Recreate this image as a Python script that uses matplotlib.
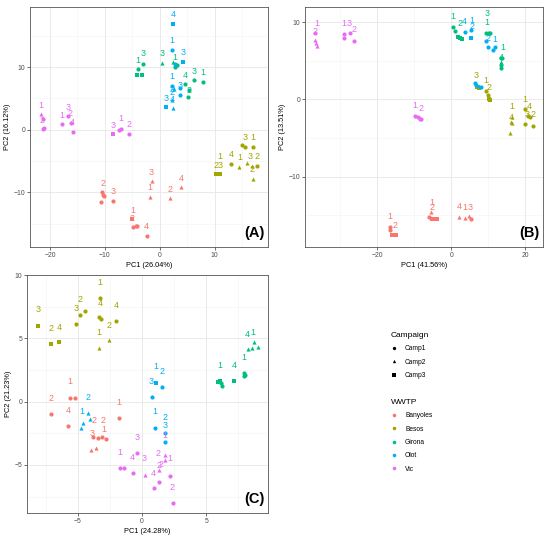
import matplotlib
matplotlib.use("Agg")
import matplotlib.pyplot as plt
from matplotlib.lines import Line2D

plt.rcParams['font.family'] = ['Liberation Sans', 'DejaVu Sans']

SITES = ['Banyoles', 'Besos', 'Girona', 'Olot', 'Vic']
CAMPS = ['Camp1', 'Camp2', 'Camp3']
COLORS = {'Banyoles': '#F8766D', 'Besos': '#A3A500', 'Girona': '#00BF7D',
          'Olot': '#00B0F6', 'Vic': '#E76BF3'}
MARKERS = {'Camp1': 'o', 'Camp2': '^', 'Camp3': 's'}

# ---------------- Panel A ----------------
a_site = (['Olot'] * 11 + ['Girona'] * 13 + ['Vic'] * 12 + ['Banyoles'] * 14 + ['Besos'] * 11)
a_x = [2.42, 2.2, 4.24, 2.85, 2.2, 2.5, 3.6, 3.6, 1.2, 2.3, 2.4,
       -4.0, -3.03, -4.2, -3.3, 0.48, 2.4, 2.7, 3.1, 4.5, 6.2, 7.9, 5.3, 5.2,
       -21.7, -21.3, -21.2, -21.0, -17.9, -16.7, -16.2, -15.9, -8.5, -7.4, -7.1, -5.7,
       -1.5, -1.8, 1.94, 3.9, -10.6, -10.3, -10.2, -10.7, -8.6, -5.0, -4.85, -4.4, -4.2, -2.4,
       15.0, 15.6, 17.0, 13.0, 14.5, 15.9, 16.7, 17.7, 17.0, 10.2, 11.0]
a_y = [16.9, 12.8, 10.8, 10.5, 7.07, 6.5, 6.6, 5.6, 3.7, 4.7, 3.5,
       9.7, 10.5, 8.8, 8.8, 10.6, 10.9, 10.0, 10.3, 7.3, 8.0, 7.6, 6.4, 5.3,
       2.6, 1.8, 0.2, 0.3, 0.9, 2.2, 1.1, -0.3, -0.6, -0.1, 0.2, -0.6,
       -8.1, -10.7, -10.9, -9.2, -9.9, -10.4, -10.6, -11.5, -11.3, -14.3, -15.5, -15.4, -15.3, -16.9,
       -2.4, -2.7, -2.8, -5.5, -5.9, -5.3, -5.8, -5.8, -7.8, -7.1, -7.1]
a_camp = ['Camp3', 'Camp1', 'Camp3', 'Camp1', 'Camp1', 'Camp2', 'Camp1', 'Camp1', 'Camp3', 'Camp2', 'Camp2',
          'Camp1', 'Camp1', 'Camp3', 'Camp3', 'Camp2', 'Camp2', 'Camp1', 'Camp1', 'Camp1', 'Camp1', 'Camp1', 'Camp1', 'Camp1',
          'Camp2', 'Camp1', 'Camp1', 'Camp1', 'Camp1', 'Camp1', 'Camp1', 'Camp1', 'Camp3', 'Camp1', 'Camp1', 'Camp1',
          'Camp2', 'Camp2', 'Camp2', 'Camp2', 'Camp1', 'Camp1', 'Camp1', 'Camp1', 'Camp1', 'Camp3', 'Camp1', 'Camp1', 'Camp1', 'Camp1',
          'Camp1', 'Camp1', 'Camp1', 'Camp1', 'Camp2', 'Camp2', 'Camp2', 'Camp1', 'Camp2', 'Camp3', 'Camp3']
a_lab_site = (['Olot'] * 9 + ['Girona'] * 8 + ['Vic'] * 9 + ['Banyoles'] * 9 + ['Besos'] * 10)
a_lab_text = ['4', '1', '3', '1', '2', '3', '3', '2', '4',
              '1', '3', '3', '1', '4', '3', '1', '2',
              '1', '2', '1', '3', '2', '4', '3', '1', '2',
              '3', '1', '2', '4', '2', '3', '1', '2', '4',
              '3', '1', '1', '4', '2', '3', '1', '3', '2', '2']
a_lab_x = [2.42, 2.18, 4.24, 2.18, 2.2, 3.64, 1.1, 2.3, 2.3,
           -4.0, -3.03, 0.48, 2.73, 4.55, 6.24, 7.88, 5.27,
           -21.7, -21.5, -17.9, -16.7, -16.3, -15.9, -8.5, -7.15, -5.7,
           -1.64, -1.8, 1.94, 3.94, -10.4, -8.5, -5.0, -5.0, -2.4,
           15.6, 17.0, 11.0, 13.0, 10.3, 10.95, 14.5, 16.5, 17.7, 16.8]
a_lab_y = [18.4, 14.3, 12.3, 8.5, 6.4, 7.0, 5.0, 6.0, 4.8,
           11.1, 12.1, 12.1, 11.6, 8.7, 9.3, 9.1, 6.3,
           3.9, 1.5, 2.3, 3.6, 2.6, 1.1, 0.67, 1.73, 0.77,
           -6.8, -9.2, -9.5, -7.8, -8.6, -9.9, -12.9, -14.2, -15.5,
           -1.25, -1.25, -4.2, -4.0, -5.7, -5.7, -4.4, -4.2, -4.2, -6.4]

# ---------------- Panel B ----------------
b_site = (['Vic'] * 12 + ['Banyoles'] * 13 + ['Girona'] * 14 + ['Olot'] * 11 + ['Besos'] * 15)
b_x = [-36.8, -36.8, -36.6, -36.3, -29.1, -29.1, -27.5, -26.4, -9.9, -9.0, -8.6, -8.1,
       -16.7, -16.7, -16.0, -15.1, -5.4, -6.1, -5.2, -4.5, -3.9, 2.1, 3.6, 4.8, 5.2,
       0.45, 1.1, 1.8, 2.3, 2.9, 9.5, 9.9, 10.2, 10.5, 13.4, 13.8, 13.5, 13.4, 13.3,
       3.6, 5.4, 5.4, 9.5, 9.9, 11.3, 11.9, 6.3, 6.8, 7.4, 8.1,
       6.9, 7.4, 9.3, 9.9, 10.1, 10.4, 16.4, 16.2, 16.5, 15.9, 19.8, 20.7, 21.4, 22.0, 19.8]
b_y = [8.6, 7.7, 7.3, 6.95, 8.5, 8.0, 8.6, 7.5, -2.1, -2.25, -2.5, -2.6,
       -16.5, -16.9, -17.6, -17.6, -14.6, -15.2, -15.5, -15.5, -15.5, -15.2, -15.4, -15.1, -15.5,
       9.35, 8.8, 8.1, 8.0, 7.8, 8.6, 8.6, 8.65, 8.6, 5.3, 5.4, 4.8, 4.5, 4.0,
       8.7, 9.0, 8.0, 7.5, 6.8, 6.4, 6.8, 2.1, 1.9, 1.7, 1.6,
       1.55, 1.45, 1.1, 0.6, 0.0, -0.1, -2.3, -2.9, -3.1, -4.4, -1.3, -2.2, -2.3, -3.5, -3.2]
b_camp = ['Camp1', 'Camp2', 'Camp2', 'Camp2', 'Camp1', 'Camp1', 'Camp1', 'Camp1', 'Camp1', 'Camp1', 'Camp1', 'Camp1',
          'Camp1', 'Camp1', 'Camp3', 'Camp3', 'Camp2', 'Camp1', 'Camp3', 'Camp3', 'Camp3', 'Camp2', 'Camp2', 'Camp2', 'Camp1',
          'Camp1', 'Camp1', 'Camp3', 'Camp3', 'Camp3', 'Camp1', 'Camp2', 'Camp1', 'Camp1', 'Camp1', 'Camp1', 'Camp2', 'Camp1', 'Camp1',
          'Camp1', 'Camp1', 'Camp3', 'Camp1', 'Camp1', 'Camp1', 'Camp1', 'Camp1', 'Camp1', 'Camp2', 'Camp1',
          'Camp3', 'Camp3', 'Camp1', 'Camp1', 'Camp3', 'Camp3', 'Camp2', 'Camp2', 'Camp2', 'Camp2', 'Camp1', 'Camp1', 'Camp1', 'Camp1', 'Camp1']
b_lab_site = (['Vic'] * 7 + ['Banyoles'] * 7 + ['Girona'] * 6 + ['Olot'] * 5 + ['Besos'] * 9)
b_lab_text = ['1', '2', '1', '3', '2', '1', '2',
              '1', '2', '1', '2', '4', '1', '3',
              '1', '2', '3', '1', '1', '4',
              '4', '1', '2', '2', '1',
              '3', '1', '2', '1', '4', '1', '4', '3', '2']
b_lab_x = [-36.5, -36.8, -29.0, -27.6, -26.4, -9.9, -8.3,
           -16.7, -15.3, -5.2, -5.2, 2.07, 3.6, 5.2,
           0.45, 2.25, 9.55, 9.55, 14.05, 13.5,
           3.6, 5.6, 5.6, 9.9, 11.7,
           6.76, 9.46, 10.1, 16.4, 16.2, 19.8, 21.2, 20.5, 22.1]
b_lab_y = [9.87, 8.8, 9.87, 9.87, 9.0, -0.74, -1.17,
           -15.2, -16.3, -13.3, -14.0, -13.85, -14.0, -14.0,
           10.7, 9.8, 11.1, 10.0, 6.7, 5.45,
           10.1, 10.2, 9.4, 7.9, 7.8,
           3.03, 2.5, 1.56, -0.95, -2.4, 0.0, -0.87, -1.9, -2.0]

# ---------------- Panel C ----------------
c_site = (['Besos'] * 12 + ['Girona'] * 12 + ['Olot'] * 10 + ['Banyoles'] * 11 + ['Vic'] * 12)
c_x = [-8.1, -7.06, -6.47, -5.17, -4.86, -4.47, -3.3, -3.35, -3.2, -2.0, -2.57, -3.35,
       5.92, 6.05, 6.18, 6.26, 7.17, 7.95, 7.95, 8.03, 8.26, 8.6, 8.7, 9.04,
       1.06, 1.58, 0.75, 0.99, 1.79, 1.77, -4.2, -4.08, -4.6, -4.73,
       -5.64, -5.25, -7.06, -5.77, -1.8, -3.82, -3.43, -3.09, -2.83, -3.95, -3.56,
       -0.39, -1.74, -1.40, -0.70, 0.21, 1.77, 1.77, 1.32, 1.32, 0.91, 2.21, 2.42]
c_y = [5.97, 4.55, 4.68, 6.1, 6.84, 7.18, 8.2, 6.7, 6.55, 6.37, 4.87, 4.26,
       1.58, 1.6, 1.5, 1.26, 1.63, 2.24, 2.03, 2.1, 4.13, 4.26, 4.68, 4.34,
       1.45, 1.18, 0.34, -2.1, -2.45, -3.16, -0.92, -1.39, -1.71, -2.1,
       0.3, 0.3, -1.0, -1.92, -1.3, -2.76, -2.89, -2.76, -2.95, -3.82, -3.63,
       -4.08, -5.21, -5.21, -5.66, -5.79, -4.21, -4.6, -5.39, -6.39, -6.84, -5.87, -8.03]
c_camp = ['Camp3', 'Camp3', 'Camp3', 'Camp1', 'Camp1', 'Camp1', 'Camp1', 'Camp1', 'Camp1', 'Camp1', 'Camp2', 'Camp2',
          'Camp3', 'Camp3', 'Camp1', 'Camp1', 'Camp3', 'Camp1', 'Camp1', 'Camp1', 'Camp2', 'Camp2', 'Camp2', 'Camp2',
          'Camp3', 'Camp1', 'Camp1', 'Camp1', 'Camp1', 'Camp1', 'Camp2', 'Camp2', 'Camp2', 'Camp2',
          'Camp1', 'Camp1', 'Camp1', 'Camp1', 'Camp1', 'Camp1', 'Camp1', 'Camp1', 'Camp1', 'Camp2', 'Camp2',
          'Camp1', 'Camp1', 'Camp1', 'Camp1', 'Camp2', 'Camp2', 'Camp2', 'Camp2', 'Camp1', 'Camp1', 'Camp1', 'Camp1']
c_lab_site = (['Besos'] * 10 + ['Girona'] * 5 + ['Olot'] * 8 + ['Banyoles'] * 8 + ['Vic'] * 11)
c_lab_text = ['3', '2', '4', '2', '3', '1', '4', '4', '2', '1',
              '1', '4', '1', '4', '1',
              '1', '2', '3', '1', '2', '3', '2', '1',
              '1', '2', '4', '1', '2', '2', '1', '3',
              '3', '1', '4', '3', '2', '1', '1', '2', '4', '2', '2']
c_lab_x = [-8.1, -7.06, -6.47, -4.86, -5.17, -3.3, -3.25, -2.0, -2.57, -3.35,
           6.05, 7.17, 7.95, 8.18, 8.65,
           1.06, 1.58, 0.73, 0.99, 1.79, 1.79, -4.2, -4.7,
           -5.64, -7.06, -5.77, -1.8, -3.77, -3.04, -2.96, -3.92,
           -0.39, -1.69, -0.75, 0.13, 1.25, 1.79, 2.2, 1.32, 0.91, 2.36, 1.5]
c_lab_y = [7.24, 5.8, 5.84, 8.1, 7.37, 9.42, 7.76, 7.58, 6.05, 5.47,
           2.82, 2.84, 3.5, 5.3, 5.45,
           2.76, 2.37, 1.58, -0.79, -1.26, -1.9, 0.32, -0.79,
           1.58, 0.26, -0.71, -0.08, -1.5, -1.5, -2.24, -2.5,
           -2.84, -4.0, -4.42, -4.53, -4.08, -2.68, -4.53, -5.08, -5.66, -6.79, -5.0]

panels = [
    dict(x=a_x, y=a_y, site=a_site, camp=a_camp, lx=a_lab_x, ly=a_lab_y, lt=a_lab_text, ls=a_lab_site,
         xlim=(-23.64, 19.7), ylim=(-18.7, 19.6), xt=[-20, -10, 0, 10], yt=[-10, 0, 10],
         xmin=[-15, -5, 5, 15], ymin=[-15, -5, 5, 15],
         xl='PC1 (26.04%)', yl='PC2 (16.12%)', tag='(A)',
         pos=[30 / 550, 1 - 247 / 541, 238 / 550, 240 / 541]),
    dict(x=b_x, y=b_y, site=b_site, camp=b_camp, lx=b_lab_x, ly=b_lab_y, lt=b_lab_text, ls=b_lab_site,
         xlim=(-39.6, 24.8), ylim=(-19.1, 11.95), xt=[-20, 0, 20], yt=[-10, 0, 10],
         xmin=[-30, -10, 10], ymin=[-15, -5, 5],
         xl='PC1 (41.56%)', yl='PC2 (13.51%)', tag='(B)',
         pos=[305 / 550, 1 - 247 / 541, 238 / 550, 240 / 541]),
    dict(x=c_x, y=c_y, site=c_site, camp=c_camp, lx=c_lab_x, ly=c_lab_y, lt=c_lab_text, ls=c_lab_site,
         xlim=(-8.96, 9.82), ylim=(-8.8, 10.0), xt=[-5, 0, 5], yt=[-5, 0, 5, 10],
         xmin=[-7.5, -2.5, 2.5, 7.5], ymin=[-7.5, -2.5, 2.5, 7.5],
         xl='PC1 (24.28%)', yl='PC2 (21.23%)', tag='(C)',
         pos=[27 / 550, 1 - 513 / 541, 241 / 550, 238 / 541]),
]

fig = plt.figure(figsize=(5.5, 5.41), dpi=100)

for p in panels:
    ax = fig.add_axes(p['pos'])
    ax.set_xlim(*p['xlim'])
    ax.set_ylim(*p['ylim'])
    ax.set_facecolor('white')
    for v in p['xmin']:
        ax.axvline(v, color='#F4F4F4', lw=0.4, zorder=0)
    for v in p['ymin']:
        ax.axhline(v, color='#F4F4F4', lw=0.4, zorder=0)
    for v in p['xt']:
        ax.axvline(v, color='#E6E6E6', lw=0.6, zorder=0)
    for v in p['yt']:
        ax.axhline(v, color='#E6E6E6', lw=0.6, zorder=0)
    for s in SITES:
        for c in CAMPS:
            xs = [xv for xv, sv, cv in zip(p['x'], p['site'], p['camp']) if sv == s and cv == c]
            ys = [yv for yv, sv, cv in zip(p['y'], p['site'], p['camp']) if sv == s and cv == c]
            if xs:
                ax.scatter(xs, ys, s=9 if c != 'Camp3' else 7.5, marker=MARKERS[c],
                           color=COLORS[s], linewidths=0, zorder=3)
    for xv, yv, tv, sv in zip(p['lx'], p['ly'], p['lt'], p['ls']):
        ax.text(xv, yv, tv, color=COLORS[sv], fontsize=6.4, ha='center', va='center', zorder=4)
    ax.set_xticks(p['xt'])
    ax.set_yticks(p['yt'])
    ax.tick_params(labelsize=4.9, colors='#333333', length=2, width=0.5, pad=1.5,
                   labelcolor='#4D4D4D')
    ax.set_xlabel(p['xl'], fontsize=5.3, labelpad=2)
    ax.set_ylabel(p['yl'], fontsize=5.3, labelpad=2)
    for sp in ax.spines.values():
        sp.set_color('#555555')
        sp.set_linewidth(0.6)
    ax.text(0.985, 0.03, p['tag'], transform=ax.transAxes, ha='right', va='bottom',
            fontsize=10.5, fontweight='bold', zorder=5)

camp_handles = [Line2D([], [], marker=MARKERS[c], ls='', color='black', markersize=2.4,
                       markeredgewidth=0) for c in CAMPS]
leg1 = fig.legend(camp_handles, CAMPS, title='Campaign', loc='upper left',
                  bbox_to_anchor=(385 / 550, 1 - 326 / 541), frameon=False, fontsize=4.8,
                  title_fontsize=6, handlelength=1.0, handletextpad=1.1, labelspacing=0.95,
                  alignment='left')
site_handles = [Line2D([], [], marker='o', ls='', color=COLORS[s], markersize=2.6,
                       markeredgewidth=0) for s in SITES]
leg2 = fig.legend(site_handles, SITES, title='WWTP', loc='upper left',
                  bbox_to_anchor=(385 / 550, 1 - 393 / 541), frameon=False, fontsize=4.8,
                  title_fontsize=6, handlelength=1.0, handletextpad=1.1, labelspacing=0.95,
                  alignment='left')

fig.savefig('out.png', dpi=100, facecolor='white')
